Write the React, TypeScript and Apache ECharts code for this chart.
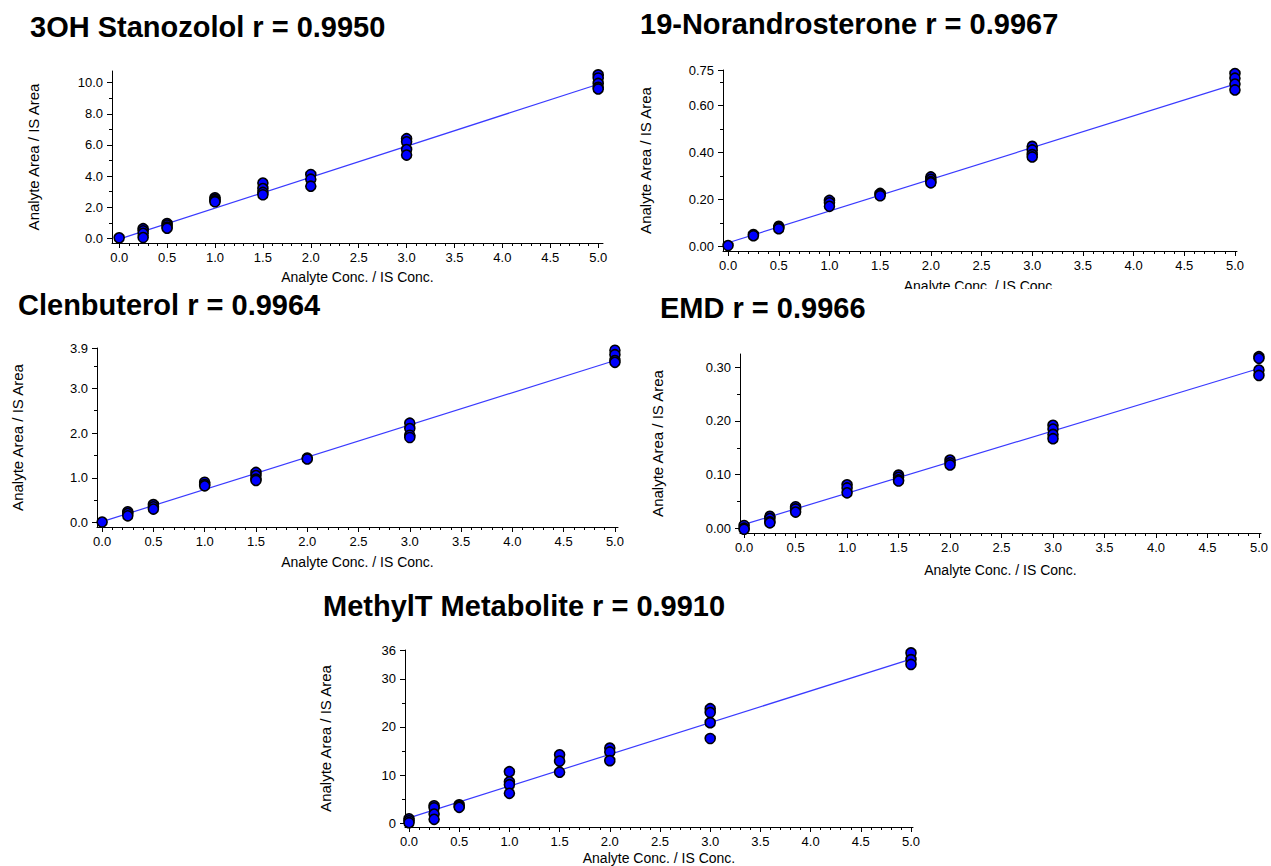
import React, { useEffect, useRef } from "react";
import * as echarts from "echarts";

const FONT = "'Liberation Sans', Arial, sans-serif";

// Calibration levels (Analyte Conc. / IS Conc.)
const LEVELS = [0, 0.25, 0.5, 1.0, 1.5, 2.0, 3.0, 5.0];
const X_TICKS = [0, 0.5, 1, 1.5, 2, 2.5, 3, 3.5, 4, 4.5, 5];
const X_MINOR = [
  0.1, 0.2, 0.3, 0.4, 0.6, 0.7, 0.8, 0.9, 1.1, 1.2, 1.3, 1.4, 1.6, 1.7, 1.8, 1.9,
  2.1, 2.2, 2.3, 2.4, 2.6, 2.7, 2.8, 2.9, 3.1, 3.2, 3.3, 3.4, 3.6, 3.7, 3.8, 3.9,
  4.1, 4.2, 4.3, 4.4, 4.6, 4.7, 4.8, 4.9,
];

// 3OH Stanozolol
const STANOZOLOL_TITLE = "3OH Stanozolol r = 0.9950";
const STANOZOLOL_VALUES = [
  [0.03],
  [0.62, 0.48, 0.32, 0.05],
  [0.95, 0.85, 0.72, 0.65],
  [2.6, 2.5, 2.4, 2.35],
  [3.55, 3.2, 2.95, 2.8],
  [4.1, 3.8, 3.35],
  [6.4, 6.2, 5.7, 5.35],
  [10.5, 10.3, 9.95, 9.7, 9.6],
];
const STANOZOLOL_FIT = [[0, -0.05], [5, 9.9]];
const STANOZOLOL_Y_TICKS = [0, 2, 4, 6, 8, 10];
const STANOZOLOL_Y_LABELS = ["0.0", "2.0", "4.0", "6.0", "8.0", "10.0"];
const STANOZOLOL_Y_MINOR = [1, 3, 5, 7, 9];

// 19-Norandrosterone
const NORANDRO_TITLE = "19-Norandrosterone r = 0.9967";
const NORANDRO_VALUES = [
  [0.003],
  [0.05, 0.045],
  [0.085, 0.08, 0.075],
  [0.195, 0.185, 0.17],
  [0.225, 0.22, 0.215],
  [0.295, 0.285, 0.275, 0.27],
  [0.425, 0.41, 0.39, 0.38],
  [0.735, 0.715, 0.69, 0.665],
];
const NORANDRO_FIT = [[0, 0.015], [5, 0.69]];
const NORANDRO_Y_TICKS = [0, 0.2, 0.4, 0.6, 0.75];
const NORANDRO_Y_LABELS = ["0.00", "0.20", "0.40", "0.60", "0.75"];
const NORANDRO_Y_MINOR = [0.1, 0.3, 0.5, 0.7];

// Clenbuterol
const CLEN_TITLE = "Clenbuterol r = 0.9964";
const CLEN_VALUES = [
  [0.01],
  [0.24, 0.2, 0.15],
  [0.4, 0.35, 0.3],
  [0.9, 0.85, 0.82],
  [1.12, 1.05, 0.97, 0.94],
  [1.44, 1.42],
  [2.22, 2.1, 1.95, 1.9],
  [3.85, 3.75, 3.62, 3.58],
];
const CLEN_FIT = [[0, 0.02], [5, 3.62]];
const CLEN_Y_TICKS = [0, 1, 2, 3, 3.9];
const CLEN_Y_LABELS = ["0.0", "1.0", "2.0", "3.0", "3.9"];
const CLEN_Y_MINOR = [0.5, 1.5, 2.5, 3.5];

// EMD
const EMD_TITLE = "EMD r = 0.9966";
const EMD_VALUES = [
  [0.005, 0.0, -0.002],
  [0.022, 0.018, 0.012, 0.01],
  [0.04, 0.036, 0.03],
  [0.081, 0.075, 0.066],
  [0.099, 0.095, 0.09, 0.088],
  [0.127, 0.122, 0.118],
  [0.192, 0.185, 0.175, 0.167],
  [0.32, 0.317, 0.295, 0.285],
];
const EMD_FIT = [[0, 0.007], [5, 0.298]];
const EMD_Y_TICKS = [0, 0.1, 0.2, 0.3];
const EMD_Y_LABELS = ["0.00", "0.10", "0.20", "0.30"];
const EMD_Y_MINOR = [0.05, 0.15, 0.25];

// MethylT Metabolite
const METHYLT_TITLE = "MethylT Metabolite r = 0.9910";
const METHYLT_VALUES = [
  [0.9, 0.5, 0.1],
  [3.6, 3.2, 1.9, 0.8],
  [3.8, 3.5, 3.3],
  [10.7, 8.6, 8.0, 6.2],
  [14.2, 12.9, 10.6],
  [15.6, 14.8, 13.0],
  [23.8, 23.0, 20.9, 17.6],
  [35.4, 34.0, 33.0],
];
const METHYLT_FIT = [[0, 1.1], [5, 34.1]];
const METHYLT_Y_TICKS = [0, 10, 20, 30, 36];
const METHYLT_Y_LABELS = ["0", "10", "20", "30", "36"];
const METHYLT_Y_MINOR = [5, 15, 25];

const X_NAME = "Analyte Conc. / IS Conc.";
const Y_NAME = "Analyte Area / IS Area";

type Panel = {
  title: string;
  titleLeft: number;
  titleTop: number;
  values: number[][];
  fit: number[][];
  yTicks: number[];
  yLabels: string[];
  yMinor: number[];
  grid: { left: number; top: number; width: number; height: number };
  xRange: [number, number];
  yRange: [number, number];
  yNameGap: number;
  xNameGap: number;
};

const PANELS: Panel[] = [
  {
    title: STANOZOLOL_TITLE, titleLeft: 30, titleTop: 12,
    values: STANOZOLOL_VALUES, fit: STANOZOLOL_FIT,
    yTicks: STANOZOLOL_Y_TICKS, yLabels: STANOZOLOL_Y_LABELS, yMinor: STANOZOLOL_Y_MINOR,
    grid: { left: 112, top: 71, width: 491, height: 172 },
    xRange: [-0.075, 5.05], yRange: [-0.3, 10.75], yNameGap: 71, xNameGap: 27,
  },
  {
    title: NORANDRO_TITLE, titleLeft: 640, titleTop: 9,
    values: NORANDRO_VALUES, fit: NORANDRO_FIT,
    yTicks: NORANDRO_Y_TICKS, yLabels: NORANDRO_Y_LABELS, yMinor: NORANDRO_Y_MINOR,
    grid: { left: 723, top: 70, width: 514, height: 181 },
    xRange: [-0.05, 5.02], yRange: [-0.02, 0.75], yNameGap: 70, xNameGap: 28,
  },
  {
    title: CLEN_TITLE, titleLeft: 18, titleTop: 290,
    values: CLEN_VALUES, fit: CLEN_FIT,
    yTicks: CLEN_Y_TICKS, yLabels: CLEN_Y_LABELS, yMinor: CLEN_Y_MINOR,
    grid: { left: 97, top: 348, width: 521, height: 179 },
    xRange: [-0.05, 5.03], yRange: [-0.1, 3.9], yNameGap: 72, xNameGap: 28,
  },
  {
    title: EMD_TITLE, titleLeft: 660, titleTop: 293,
    values: EMD_VALUES, fit: EMD_FIT,
    yTicks: EMD_Y_TICKS, yLabels: EMD_Y_LABELS, yMinor: EMD_Y_MINOR,
    grid: { left: 740, top: 354, width: 521, height: 179 },
    xRange: [-0.04, 5.02], yRange: [-0.009, 0.325], yNameGap: 75, xNameGap: 30,
  },
  {
    title: METHYLT_TITLE, titleLeft: 323, titleTop: 591,
    values: METHYLT_VALUES, fit: METHYLT_FIT,
    yTicks: METHYLT_Y_TICKS, yLabels: METHYLT_Y_LABELS, yMinor: METHYLT_Y_MINOR,
    grid: { left: 405, top: 650, width: 508, height: 177 },
    xRange: [-0.04, 5.02], yRange: [-0.8, 36], yNameGap: 72, xNameGap: 24,
  },
];

function buildOption(): any {
  const titles: any[] = [];
  const grids: any[] = [];
  const xAxes: any[] = [];
  const yAxes: any[] = [];
  const series: any[] = [];
  const axisText = { color: "#000", fontSize: 13, fontFamily: FONT };

  PANELS.forEach((p, i) => {
    titles.push({
      text: p.title,
      left: p.titleLeft,
      top: p.titleTop,
      padding: 0,
      textStyle: { fontSize: 29, fontWeight: "bold", color: "#000", fontFamily: FONT },
    });
    grids.push({ ...p.grid, containLabel: false });

    xAxes.push({
      type: "value", gridIndex: i, position: "bottom", offset: 0,
      min: p.xRange[0], max: p.xRange[1],
      axisLine: { show: true, onZero: false, lineStyle: { color: "#000", width: 1 } },
      axisTick: { show: true, customValues: X_TICKS, length: 5, lineStyle: { color: "#000" } },
      axisLabel: { customValues: X_TICKS, formatter: (v: number) => v.toFixed(1), margin: 8, ...axisText },
      splitLine: { show: false },
      name: X_NAME, nameLocation: "middle", nameGap: p.xNameGap,
      nameTextStyle: { ...axisText, fontSize: 14 },
    });
    xAxes.push({
      type: "value", gridIndex: i, position: "bottom", offset: 0,
      min: p.xRange[0], max: p.xRange[1],
      axisLine: { show: false, onZero: false },
      axisTick: { show: true, customValues: X_MINOR, length: 3, lineStyle: { color: "#000" } },
      axisLabel: { show: false },
      splitLine: { show: false },
    });

    const labels = p.yLabels;
    const ticks = p.yTicks;
    yAxes.push({
      type: "value", gridIndex: i, position: "left", offset: 0,
      min: p.yRange[0], max: p.yRange[1],
      axisLine: { show: true, onZero: false, lineStyle: { color: "#000", width: 1 } },
      axisTick: { show: true, customValues: ticks, length: 5, lineStyle: { color: "#000" } },
      axisLabel: {
        customValues: ticks,
        formatter: (v: number) => {
          let best = 0;
          ticks.forEach((t, k) => { if (Math.abs(t - v) < Math.abs(ticks[best] - v)) best = k; });
          return labels[best];
        },
        margin: 9, ...axisText,
      },
      splitLine: { show: false },
      name: Y_NAME, nameLocation: "middle", nameRotate: 90, nameGap: p.yNameGap,
      nameTextStyle: { ...axisText, fontSize: 15 },
    });
    yAxes.push({
      type: "value", gridIndex: i, position: "left", offset: 0,
      min: p.yRange[0], max: p.yRange[1],
      axisLine: { show: false, onZero: false },
      axisTick: { show: true, customValues: p.yMinor, length: 3, lineStyle: { color: "#000" } },
      axisLabel: { show: false },
      splitLine: { show: false },
    });

    series.push({
      type: "line", xAxisIndex: 2 * i, yAxisIndex: 2 * i,
      data: p.fit, symbol: "none", silent: true,
      lineStyle: { color: "#3a3aff", width: 1.2 },
      z: 2,
    });
    const pts: number[][] = [];
    LEVELS.forEach((x, k) => p.values[k].forEach((y) => pts.push([x, y])));
    series.push({
      type: "scatter", xAxisIndex: 2 * i, yAxisIndex: 2 * i,
      data: pts, symbol: "circle", symbolSize: 10, clip: false,
      itemStyle: { color: "#0000ff", borderColor: "#000", borderWidth: 1.6, opacity: 1 },
      z: 3,
    });
  });

  return {
    animation: false,
    backgroundColor: "#fff",
    textStyle: { fontFamily: FONT },
    title: titles,
    grid: grids,
    xAxis: xAxes,
    yAxis: yAxes,
    series,
    graphic: [
      {
        type: "rect", z: 100,
        shape: { x: 890, y: 289, width: 190, height: 14 },
        style: { fill: "#fff" },
      },
    ],
  };
}

export default function App() {
  const ref = useRef<HTMLDivElement>(null);
  useEffect(() => {
    if (!ref.current) return;
    const chart = echarts.init(ref.current, undefined, { renderer: "svg" });
    chart.setOption(buildOption());
    return () => chart.dispose();
  }, []);
  return (
    <div
      ref={ref}
      style={{ position: "absolute", left: 0, top: 0, width: 1271, height: 866, background: "#fff" }}
    />
  );
}
